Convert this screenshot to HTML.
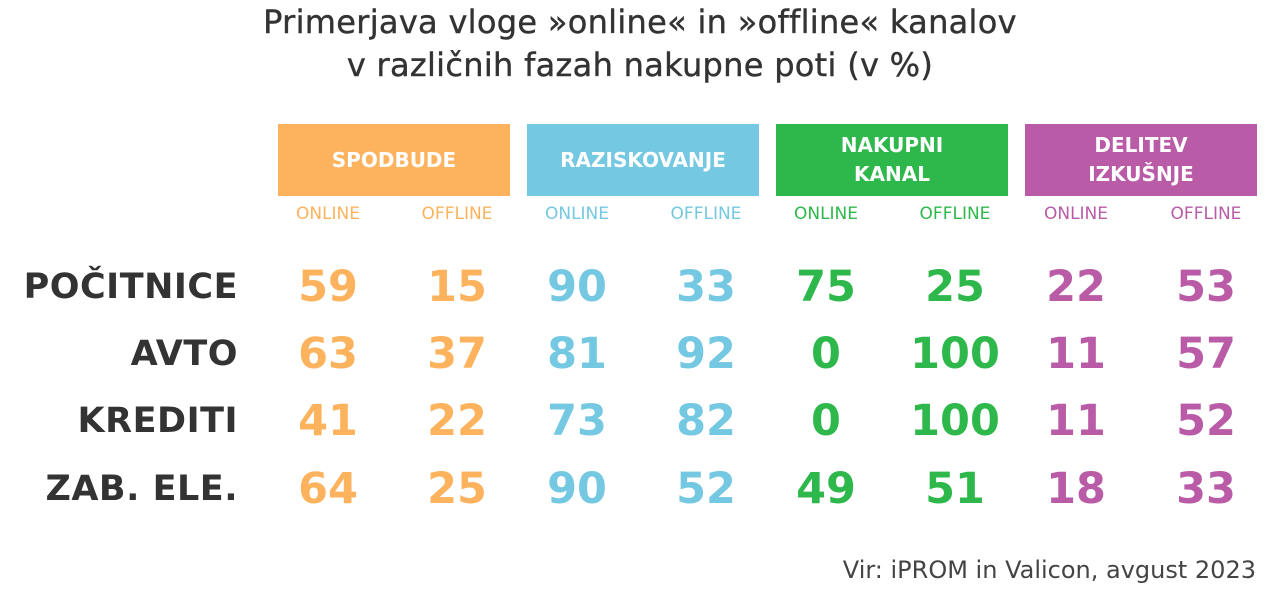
<!DOCTYPE html>
<html><head><meta charset="utf-8"><style>
body{margin:0;width:1280px;height:597px;background:#fff;position:relative;overflow:hidden;font-family:"DejaVu Sans","Liberation Sans",sans-serif;}
.t{position:absolute;left:0;width:1280px;text-align:center;font-size:32px;color:#333;letter-spacing:0.3px;-webkit-text-stroke:0.4px #333}
.box{position:absolute;top:124px;height:72px;width:232px;color:#fff;font-weight:bold;font-size:20px;display:flex;align-items:center;justify-content:center;text-align:center;line-height:29px}
.s{position:absolute;top:204px;width:120px;margin-left:-60px;text-align:center;font-size:17px}
.n{position:absolute;width:140px;margin-left:-70px;text-align:center;font-weight:bold;font-size:43px;line-height:50px}
.r{position:absolute;right:1042px;font-weight:bold;font-size:35px;color:#333;line-height:50px;letter-spacing:0.5px}
.o{color:#FDB35E}.b{color:#74C8E1}.g{color:#2EB84B}.p{color:#B95BA6}
</style></head><body>
<div class="t" style="top:3px">Primerjava vloge »online« in »offline« kanalov</div>
<div class="t" style="top:46px">v različnih fazah nakupne poti (v %)</div>
<div class="box" style="left:278px;background:#FDB35E">SPODBUDE</div>
<div class="box" style="left:527px;background:#74C8E1">RAZISKOVANJE</div>
<div class="box" style="left:776px;background:#2EB84B">NAKUPNI<br>KANAL</div>
<div class="box" style="left:1025px;background:#B95BA6">DELITEV<br>IZKUŠNJE</div>
<div class="s o" style="left:328px">ONLINE</div><div class="s o" style="left:457px">OFFLINE</div>
<div class="s b" style="left:577px">ONLINE</div><div class="s b" style="left:706px">OFFLINE</div>
<div class="s g" style="left:826px">ONLINE</div><div class="s g" style="left:955px">OFFLINE</div>
<div class="s p" style="left:1076px">ONLINE</div><div class="s p" style="left:1206px">OFFLINE</div>

<div class="r" style="top:262px">POČITNICE</div>
<div class="r" style="top:329px">AVTO</div>
<div class="r" style="top:396px">KREDITI</div>
<div class="r" style="top:464px">ZAB. ELE.</div>

<div class="n o" style="top:262px;left:328px">59</div><div class="n o" style="top:262px;left:457px">15</div><div class="n b" style="top:262px;left:577px">90</div><div class="n b" style="top:262px;left:706px">33</div><div class="n g" style="top:262px;left:826px">75</div><div class="n g" style="top:262px;left:955px">25</div><div class="n p" style="top:262px;left:1076px">22</div><div class="n p" style="top:262px;left:1206px">53</div>
<div class="n o" style="top:329px;left:328px">63</div><div class="n o" style="top:329px;left:457px">37</div><div class="n b" style="top:329px;left:577px">81</div><div class="n b" style="top:329px;left:706px">92</div><div class="n g" style="top:329px;left:826px">0</div><div class="n g" style="top:329px;left:955px">100</div><div class="n p" style="top:329px;left:1076px">11</div><div class="n p" style="top:329px;left:1206px">57</div>
<div class="n o" style="top:396px;left:328px">41</div><div class="n o" style="top:396px;left:457px">22</div><div class="n b" style="top:396px;left:577px">73</div><div class="n b" style="top:396px;left:706px">82</div><div class="n g" style="top:396px;left:826px">0</div><div class="n g" style="top:396px;left:955px">100</div><div class="n p" style="top:396px;left:1076px">11</div><div class="n p" style="top:396px;left:1206px">52</div>
<div class="n o" style="top:464px;left:328px">64</div><div class="n o" style="top:464px;left:457px">25</div><div class="n b" style="top:464px;left:577px">90</div><div class="n b" style="top:464px;left:706px">52</div><div class="n g" style="top:464px;left:826px">49</div><div class="n g" style="top:464px;left:955px">51</div><div class="n p" style="top:464px;left:1076px">18</div><div class="n p" style="top:464px;left:1206px">33</div>

<div style="position:absolute;right:24px;top:556px;font-size:24px;color:#444">Vir: iPROM in Valicon, avgust 2023</div>
</body></html>
